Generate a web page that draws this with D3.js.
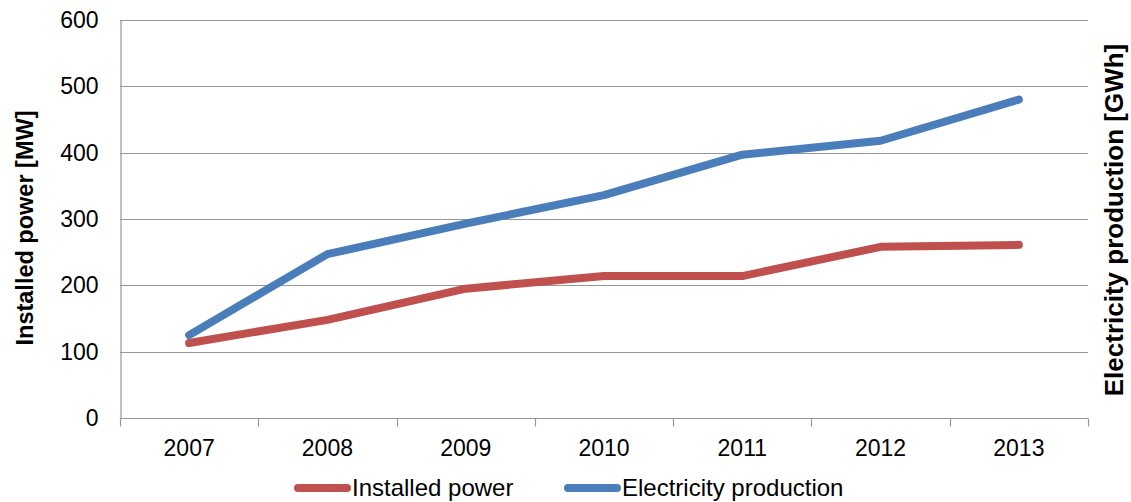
<!DOCTYPE html>
<html>
<head>
<meta charset="utf-8">
<script src="https://cdn.jsdelivr.net/npm/d3@7"></script>
<style>
  html, body { margin: 0; padding: 0; background: #fff; }
  svg { display: block; }
  text { font-family: "Liberation Sans", Arial, sans-serif; fill: #000; }
</style>
</head>
<body>
<svg id="chart" width="1131" height="502"></svg>
<script>
// Years on the category axis
const years = ["2007", "2008", "2009", "2010", "2011", "2012", "2013"];
// Installed power [MW]
const installedPower = [113, 148, 195, 214, 214, 258, 261];
// Electricity production [GWh]
const electricityProduction = [125, 247, 293, 336, 397, 418, 480];
// Left axis ticks
const yTicks = [0, 100, 200, 300, 400, 500, 600];

const series = [
  { name: "Installed power", values: installedPower, color: "#C0504D" },
  { name: "Electricity production", values: electricityProduction, color: "#4A7EBB" }
];

const svg = d3.select("#chart");
const plot = { left: 120, right: 1088, top: 20, bottom: 418 };

const x = d3.scaleBand().domain(years).range([plot.left, plot.right]);
const y = d3.scaleLinear().domain([0, 600]).range([plot.bottom, plot.top]);
// Secondary axis shares the same range as the primary one
const y2 = d3.scaleLinear().domain([0, 600]).range([plot.bottom, plot.top]);

// Horizontal gridlines
svg.append("g")
  .selectAll("line")
  .data(yTicks)
  .join("line")
  .attr("x1", plot.left)
  .attr("x2", plot.right)
  .attr("y1", d => Math.round(y(d)) + 0.5)
  .attr("y2", d => Math.round(y(d)) + 0.5)
  .attr("stroke", "#969696")
  .attr("stroke-width", 1.2);

// Left value axis
const yAxis = svg.append("g")
  .attr("transform", `translate(${plot.left + 0.5},0)`)
  .call(d3.axisLeft(y).tickValues(yTicks).tickSize(0).tickPadding(22));
yAxis.select(".domain").attr("stroke", "#969696").attr("stroke-width", 1.2);
yAxis.selectAll("text")
  .style("font-size", "23px")
  .style("font-family", "'Liberation Sans', Arial, sans-serif")
  .attr("fill", "#000");

// Category axis with ticks between categories
const xAxis = svg.append("g")
  .attr("transform", `translate(0,${Math.round(plot.bottom) + 0.5})`);
const boundaries = years.map(d => x(d)).concat([plot.right]);
xAxis.append("line")
  .attr("x1", plot.left).attr("x2", plot.right)
  .attr("stroke", "#969696").attr("stroke-width", 1.2);
xAxis.selectAll("line.tick")
  .data(boundaries)
  .join("line")
  .attr("class", "tick")
  .attr("x1", d => Math.round(d) + 0.5)
  .attr("x2", d => Math.round(d) + 0.5)
  .attr("y1", 0)
  .attr("y2", 8)
  .attr("stroke", "#969696")
  .attr("stroke-width", 1.2);
xAxis.selectAll("text")
  .data(years)
  .join("text")
  .attr("x", d => x(d) + x.bandwidth() / 2)
  .attr("y", 37)
  .attr("text-anchor", "middle")
  .style("font-size", "23px")
  .text(d => d);

// Series lines
const line = scale => d3.line()
  .x((d, i) => x(years[i]) + x.bandwidth() / 2)
  .y(d => scale(d));

svg.append("path")
  .datum(installedPower)
  .attr("d", line(y))
  .attr("fill", "none")
  .attr("stroke", series[0].color)
  .attr("stroke-width", 8)
  .attr("stroke-linecap", "round")
  .attr("stroke-linejoin", "round");

svg.append("path")
  .datum(electricityProduction)
  .attr("d", line(y2))
  .attr("fill", "none")
  .attr("stroke", series[1].color)
  .attr("stroke-width", 8)
  .attr("stroke-linecap", "round")
  .attr("stroke-linejoin", "round");

// Axis titles
svg.append("text")
  .attr("transform", "translate(33,228) rotate(-90)")
  .attr("text-anchor", "middle")
  .style("font-size", "23.5px")
  .style("font-weight", "bold")
  .text("Installed power [MW]");

svg.append("text")
  .attr("transform", "translate(1123,220) rotate(-90)")
  .attr("text-anchor", "middle")
  .style("font-size", "26px")
  .style("font-weight", "bold")
  .text("Electricity production [GWh]");

// Legend
const legendPos = [298, 568];
const legend = svg.append("g")
  .selectAll("g")
  .data(series)
  .join("g")
  .attr("transform", (d, i) => `translate(${legendPos[i]},488)`);
legend.append("line")
  .attr("x1", 0).attr("x2", 49)
  .attr("y1", 0).attr("y2", 0)
  .attr("stroke", d => d.color)
  .attr("stroke-width", 8)
  .attr("stroke-linecap", "round");
legend.append("text")
  .attr("x", 54)
  .attr("y", 8)
  .style("font-size", "24px")
  .text(d => d.name);
</script>
</body>
</html>
